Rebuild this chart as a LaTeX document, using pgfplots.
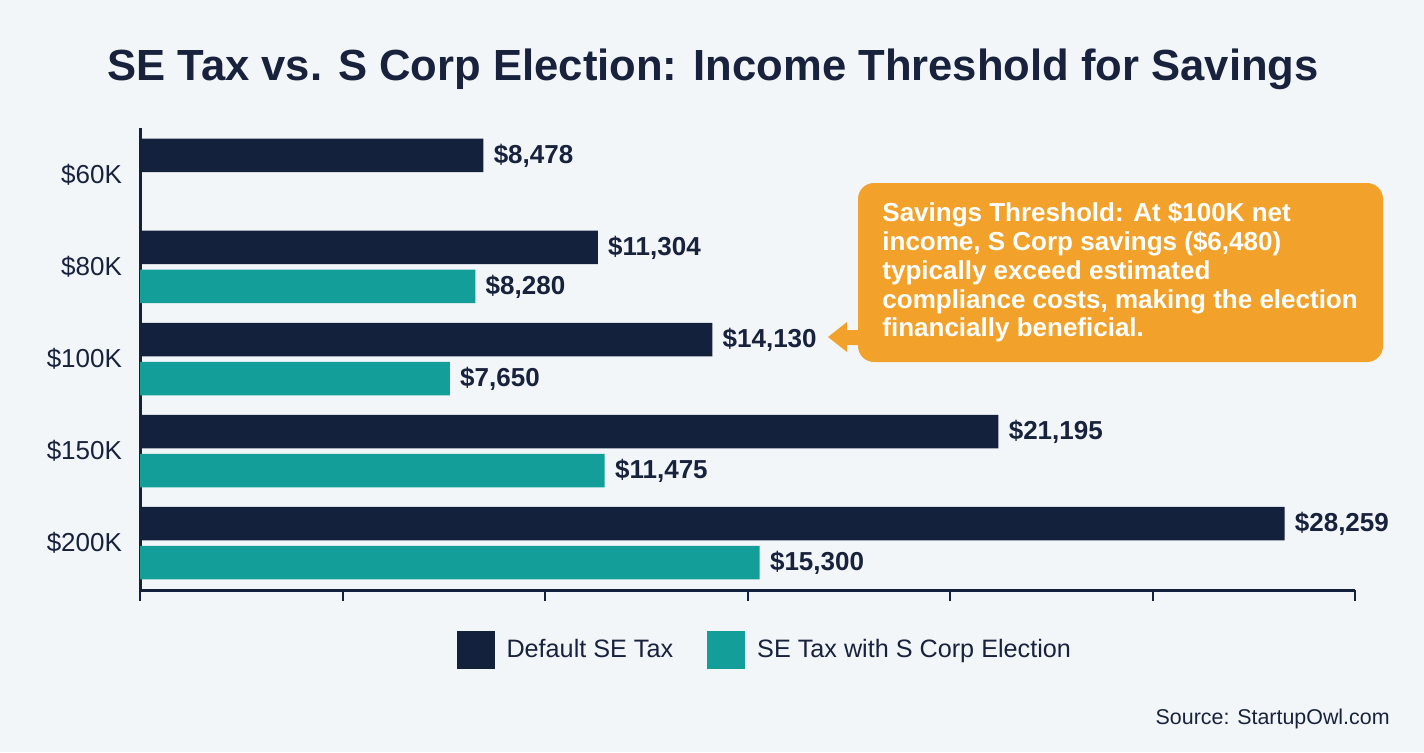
\documentclass[border=0pt]{standalone}
\usepackage{fontspec}
\setmainfont{Liberation Sans}
\usepackage{pgfplots}
\pgfplotsset{compat=1.18}

\definecolor{bg}{HTML}{F3F6F9}
\definecolor{navy}{HTML}{14213D}
\definecolor{teal}{HTML}{139E99}
\definecolor{callout}{HTML}{F2A22B}
\definecolor{textc}{HTML}{18223C}

\begin{document}
\begin{tikzpicture}
% canvas in pixel units, y pointing down
\begin{scope}[x=0.5pt, y=-0.5pt, shift={(0pt,376pt)}]
  \fill[bg] (0,0) rectangle (1424,752);
  \node[anchor=base, text=textc, font=\bfseries\fontsize{21.8}{26}\selectfont]
    at (713,80) {SE Tax vs. S Corp Election: Income Threshold for Savings};
  % callout
  \fill[callout, rounded corners=8pt] (858,183) rectangle (1383,362);
  \fill[callout] (828,337) -- (847,322) -- (847,330) -- (866,330)
    -- (866,345) -- (847,345) -- (847,352) -- cycle;
  \node[anchor=north west, text=white, align=left, inner sep=0pt,
        font=\bfseries\fontsize{13}{14.4}\selectfont] at (882,202)
    {Savings Threshold: At \$100K net\\
     income, S Corp savings (\$6,480)\\
     typically exceed estimated\\
     compliance costs, making the election\\
     financially beneficial.};
  \node[anchor=base east, text=textc, inner sep=0pt,
        font=\fontsize{10.7}{13}\selectfont] at (1390,724) {Source: StartupOwl.com};
\end{scope}

\begin{axis}[
    at={(70pt,81pt)}, anchor=south west,
    scale only axis, width=607.5pt, height=231pt,
    xbar, bar width=16.75pt,
    xmin=0, xmax=30000, ymin=-0.51, ymax=4.51,
    axis x line*=bottom, axis y line*=left,
    axis line style={navy, line width=1.5pt},
    xtick={0,5000,...,30000}, xticklabels={}, scaled x ticks=false,
    ytick={0,1,2,3,4},
    yticklabels={\$200K,\$150K,\$100K,\$80K,\$60K},
    yticklabel style={text=textc, font=\fontsize{13}{15}\selectfont},
    tick align=outside, major tick length=5.5pt,
    x tick style={navy, line width=1pt},
    y tick style={draw=none},
    clip=false,
    point meta=x,
    nodes near coords={\$\pgfmathprintnumber[fixed,precision=0,1000 sep={,},assume math mode=true]{\pgfplotspointmeta}},
    nodes near coords style={anchor=west, inner sep=0pt, xshift=5pt, text=textc,
        font=\bfseries\fontsize{13}{15}\selectfont},
    legend columns=2,
    legend style={at={(0.515,-0.13)}, anchor=center, draw=none, fill=none,
        text=textc, font=\fontsize{12.6}{15}\selectfont,
        /tikz/every even column/.append style={column sep=15pt}},
    legend image code/.code={\fill[#1] (0pt,-9.5pt) rectangle (19pt,9.5pt);
        \path (23pt,0pt);},
]
\addplot[fill=navy, draw=none, bar shift=9.75pt] coordinates {
    (8478,4) (11304,3) (14130,2) (21195,1) (28259,0)
};
\addlegendentry{Default SE Tax}
\addplot[fill=teal, draw=none, bar shift=-9.75pt] coordinates {
    (8280,3) (7650,2) (11475,1) (15300,0)
};
\addlegendentry{SE Tax with S Corp Election}
\end{axis}
\end{tikzpicture}
\end{document}
